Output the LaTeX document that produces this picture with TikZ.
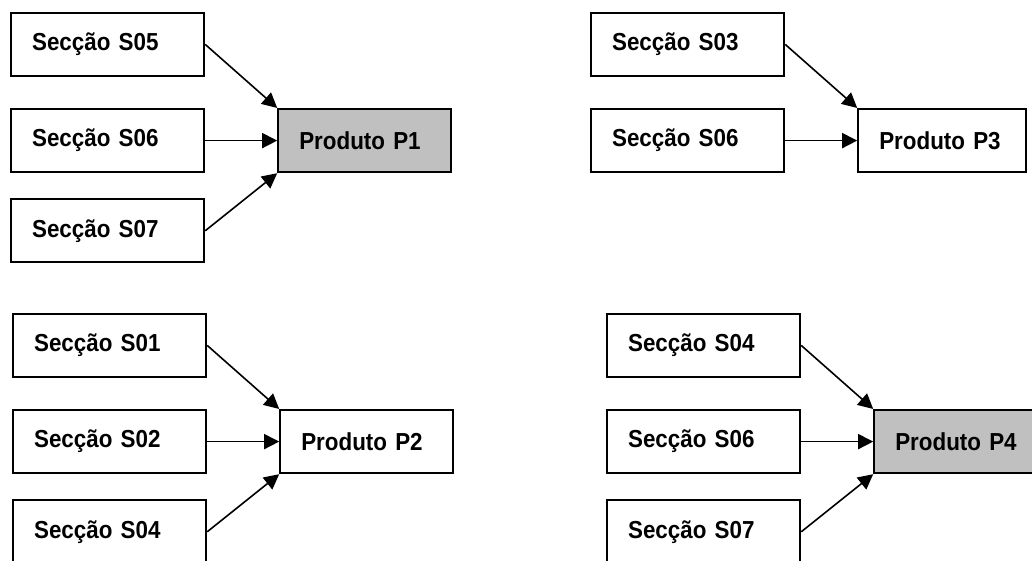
\documentclass[tikz,border=0pt]{standalone}
\usepackage{fontspec}
\setmainfont{Liberation Sans}[FakeStretch=0.91, WordSpace=0.7]
\usepackage{tikz}
\usetikzlibrary{positioning,arrows.meta}
\definecolor{prodgray}{RGB}{192,192,192}
\tikzstyle{sec}=[rectangle, draw=black, line width=2.2pt, text=black, text width=151pt, inner xsep=21pt, minimum height=63pt, align=left, font=\fontsize{24.6}{28}\selectfont\bfseries]
\tikzstyle{prod}=[rectangle, draw=black, line width=2.2pt, text=black, text width=131pt, inner xsep=21pt, minimum height=63pt, align=left, font=\fontsize{24.6}{28}\selectfont\bfseries]
\tikzstyle{hot}=[fill=prodgray]
\tikzset{>={Triangle[length=15pt,width=15pt]}}
\begin{document}
\begin{tikzpicture}[x=1pt, y=1pt, line width=1.6pt]
    \useasboundingbox (0,0) rectangle (1032,-561);

        % Produto P1
        \node(s06a)[sec, anchor=north west] at (10,-108) {Secção S06};
        \node(s05a)[sec, above=31pt of s06a] {Secção S05};
        \node(s07a)[sec, below=25pt of s06a] {Secção S07};
        \node(p1)[prod, hot, right=72pt of s06a] {Produto P1};

        \draw[->] (s05a.east) -- (p1.north west);
        \draw[->] (s06a) -- (p1);
        \draw[->] (s07a.east) -- (p1.south west);

        % Produto P3
        \node(s06b)[sec, anchor=north west] at (590,-108) {Secção S06};
        \node(s03b)[sec, above=31pt of s06b] {Secção S03};
        \node(p3)[prod, text width=126pt, right=72pt of s06b] {Produto P3};

        \draw[->] (s03b.east) -- (p3.north west);
        \draw[->] (s06b) -- (p3);

        % Produto P2
        \node(s02c)[sec, anchor=north west] at (12,-409) {Secção S02};
        \node(s01c)[sec, above=31pt of s02c] {Secção S01};
        \node(s04c)[sec, below=25pt of s02c] {Secção S04};
        \node(p2)[prod, right=72pt of s02c] {Produto P2};

        \draw[->] (s01c.east) -- (p2.north west);
        \draw[->] (s02c) -- (p2);
        \draw[->] (s04c.east) -- (p2.south west);

        % Produto P4
        \node(s06d)[sec, anchor=north west] at (606,-409) {Secção S06};
        \node(s04d)[sec, above=31pt of s06d] {Secção S04};
        \node(s07d)[sec, below=25pt of s06d] {Secção S07};
        \node(p4)[prod, hot, right=72pt of s06d] {Produto P4};

        \draw[->] (s04d.east) -- (p4.north west);
        \draw[->] (s06d) -- (p4);
        \draw[->] (s07d.east) -- (p4.south west);
    \end{tikzpicture}
\end{document}
